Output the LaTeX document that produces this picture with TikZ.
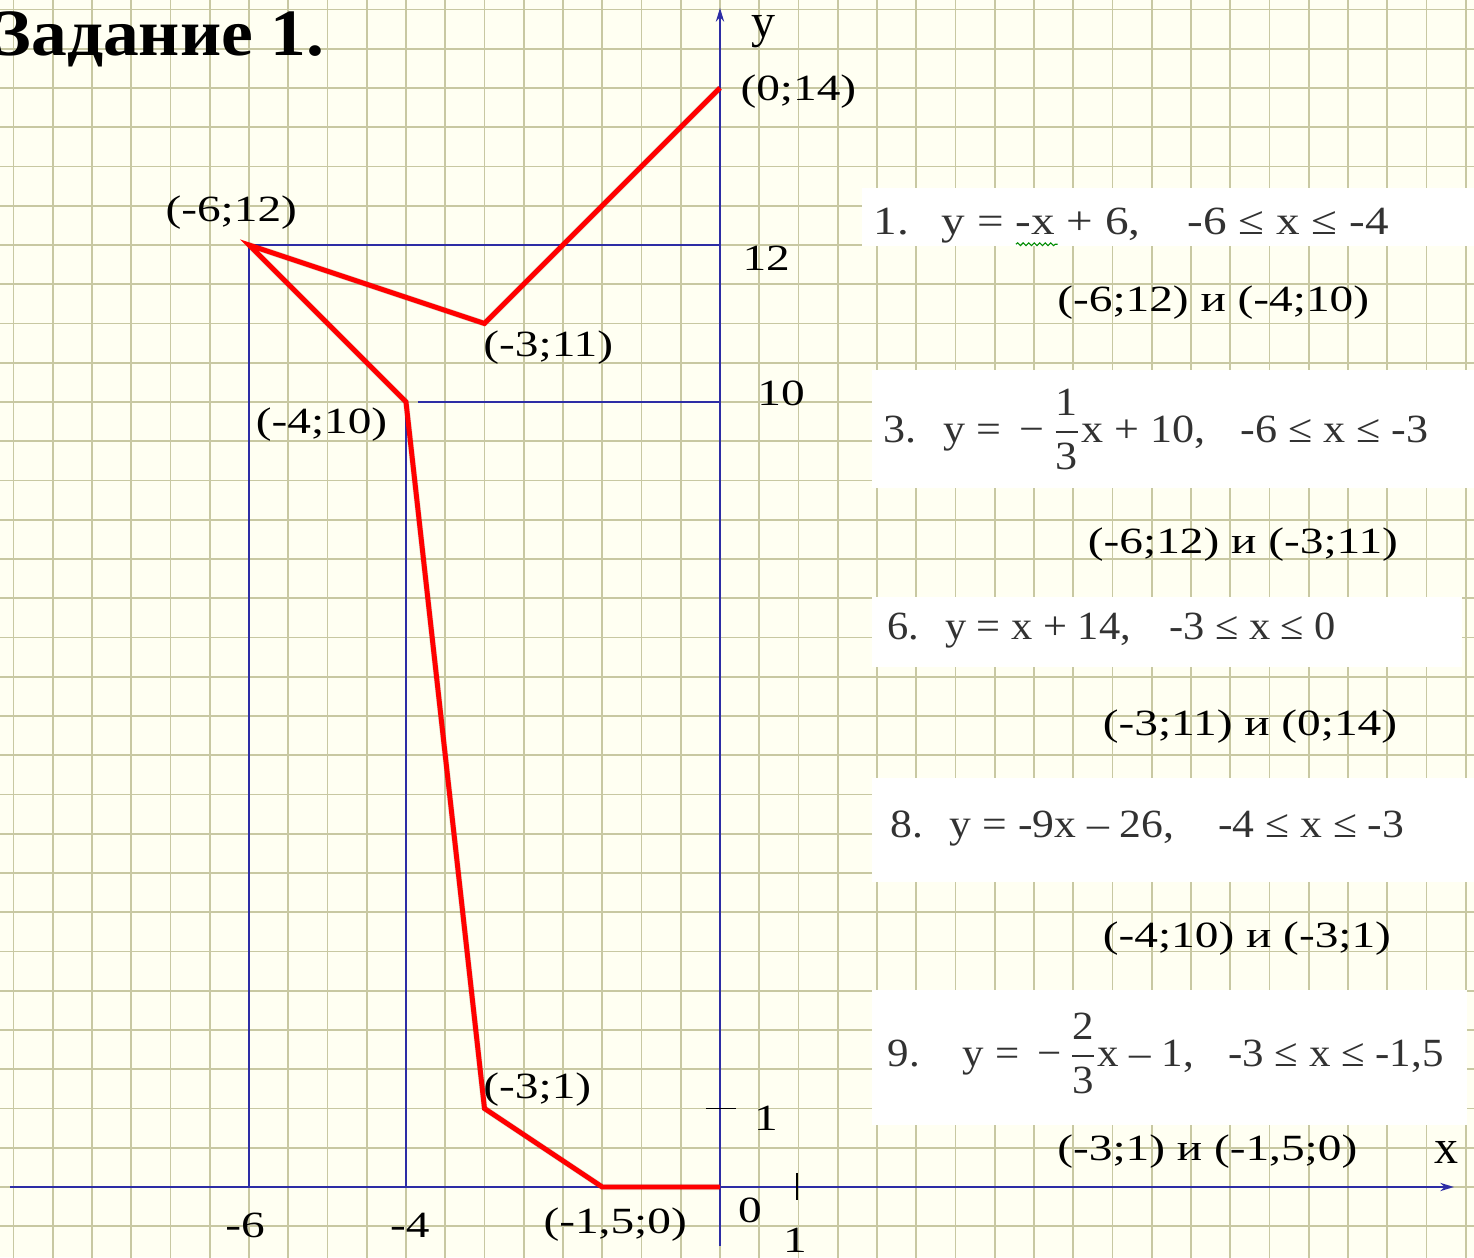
\documentclass[tikz,border=0pt]{standalone}
\usepackage{fontspec}
\setmainfont{Liberation Serif}
\usepackage{amsmath}
\usepackage{graphicx}
\usepackage{tikz}
\usetikzlibrary{arrows.meta,decorations.pathmorphing}
\definecolor{paper}{RGB}{255,255,242}
\definecolor{gridline}{RGB}{200,200,162}
\definecolor{axisblue}{RGB}{45,45,165}
\definecolor{inkgray}{RGB}{50,50,50}
\newcommand{\wide}[1]{\scalebox{1.28}[1]{#1}}
\newcommand{\eqline}[2]{\resizebox{#1}{\height}{#2}}
\newcommand{\fr}[2]{$\dfrac{\text{#1}}{\text{#2}}$}
\tikzset{
	lbl/.style={inner sep=0pt, font=\fontsize{13.4}{14}\selectfont},
	axislbl/.style={inner sep=0pt, font=\fontsize{17.4}{18}\selectfont},
	eqtext/.style={inner sep=0pt, anchor=base west, text=inkgray, font=\fontsize{14.5}{15}\selectfont},
	axis/.style={axisblue, line width=0.7pt},
	graph/.style={red, line width=1.8pt, line join=miter},
	graphshadow/.style={black, opacity=0.12, line width=2.2pt, line join=round, shift={(1.2pt,-2pt)}}
}

\begin{document}
\begin{tikzpicture}
				\clip (-9.172,-0.892) rectangle (9.605,15.121);
				\fill[paper] (-9.172,-0.892) rectangle (9.605,15.121);
				\draw[gridline, line width=0.7pt] (-9.5,-1) grid[step=0.5] (10,15.5);
				\node[anchor=base east, inner sep=0pt, font=\fontsize{24}{26}\selectfont\bfseries] (title) at (-5.03,14.42) {\scalebox{1.08}[1]{Задание 1.}};
				% formula boxes
				\fill[white] (1.81,11.99) rectangle (9.7,12.73);
				\fill[white] (1.94,8.90) rectangle (9.7,10.41);
				\fill[white] (1.94,6.62) rectangle (9.45,7.52);
				\fill[white] (1.94,3.89) rectangle (9.7,5.21);
				\fill[white] (1.94,0.79) rectangle (9.52,2.51);
				\node[eqtext] (f1) at (1.95,12.13) {\eqline{6.56cm}{1.\hspace{0.7em}y = -x + 6,\hspace{1em}-6 ≤ x ≤ -4}};
				\node[eqtext] (f3) at (2.08,9.49) {\eqline{6.94cm}{3.\hspace{0.6em}y = \,−\,\fr{1}{3}x + 10,\hspace{0.8em}-6 ≤ x ≤ -3}};
				\node[eqtext] (f6) at (2.13,6.97) {\eqline{5.71cm}{6.\hspace{0.6em}y = x + 14,\hspace{0.9em}-3 ≤ x ≤ 0}};
				\node[eqtext] (f8) at (2.17,4.45) {\eqline{6.54cm}{8.\hspace{0.6em}y = -9x – 26,\hspace{1em}-4 ≤ x ≤ -3}};
				\node[eqtext] (f9) at (2.13,1.54) {\eqline{7.08cm}{9.\hspace{1em}y = \,−\,\fr{2}{3}x – 1,\hspace{0.8em}-3 ≤ x ≤ -1,5}};
				\draw[green!55!black, line width=0.4pt, decorate, decoration={snake, amplitude=0.5pt, segment length=2pt}] (3.77,12.01) -- (4.3,12.01);
				\node[lbl, anchor=west] (a1) at (4.29,11.26) {\wide{(-6;12) и (-4;10)}};
				\node[lbl, anchor=west] (a3) at (4.68,8.18) {\wide{(-6;12) и (-3;11)}};
				\node[lbl, anchor=west] (a6) at (4.87,5.86) {\wide{(-3;11) и (0;14)}};
				\node[lbl, anchor=west] (a8) at (4.87,3.17) {\wide{(-4;10) и (-3;1)}};
				\node[lbl, anchor=west] (a9) at (4.29,0.446) {\wide{(-3;1) и (-1,5;0)}};
				% axes
				\coordinate (xl) at (-9.04,0);
				\coordinate (xr) at (9.35,0);
				\coordinate (yb) at (0,-0.75);
				\coordinate (yt) at (0,15.02);
				\draw[axis, -{Stealth[length=5pt,width=3pt]}] (xl) -- (xr);
				\draw[axis, -{Stealth[length=5pt,width=3pt]}] (yb) -- (yt);
				\node[axislbl] (xname) at (9.26,0.446) {x};
				\node[axislbl] (yname) at (0.548,14.72) {y};
				\draw[black, line width=0.7pt] (-0.18,1) -- (0.2,1);
				\draw[black, line width=0.7pt] (0.98,0.18) -- (0.98,-0.17);
				\draw[axis] (-6,0) |- (0,12);
				\draw[axis] (-4,0) -- (-4,10);
				\draw[axis] (-3.85,10) -- (0,10);
				% broken line
				\coordinate (A) at (0,14);
				\coordinate (B) at (-3,11);
				\coordinate (C) at (-6,12);
				\coordinate (D) at (-4,10);
				\coordinate (E) at (-3,1);
				\coordinate (F) at (-1.5,0);
				\coordinate (O) at (0,0);
				\draw[graphshadow] (A) -- (B) -- (C) -- (D) -- (E) -- (F) -- (O);
				\draw[graph] (A) -- (B) -- (C) -- (D) -- (E) -- (F) -- (O);
				\node[lbl, anchor=west] (lA) at (0.255,13.95) {\wide{(0;14)}};
				\node[lbl, anchor=west] (lC) at (-7.07,12.41) {\wide{(-6;12)}};
				\node[lbl, anchor=west] (lB) at (-3.02,10.69) {\wide{(-3;11)}};
				\node[lbl, anchor=west] (lD) at (-5.92,9.71) {\wide{(-4;10)}};
				\node[lbl, anchor=west] (lE) at (-3.02,1.24) {\wide{(-3;1)}};
				\node[lbl, anchor=west] (lF) at (-2.255,-0.484) {\wide{(-1,5;0)}};
				\node[lbl, anchor=west] (y12) at (0.28,11.83) {\wide{12}};
				\node[lbl, anchor=west] (y10) at (0.47,10.11) {\wide{10}};
				\node[lbl] (y1) at (0.586,0.879) {\wide{1}};
				\node[lbl] (zero) at (0.382,-0.293) {\wide{0}};
				\node[lbl] (x1) at (0.955,-0.675) {\wide{1}};
				\node[lbl] (xm6) at (-6.05,-0.484) {\wide{-6}};
				\node[lbl] (xm4) at (-3.95,-0.484) {\wide{-4}};
\end{tikzpicture}
\end{document}
